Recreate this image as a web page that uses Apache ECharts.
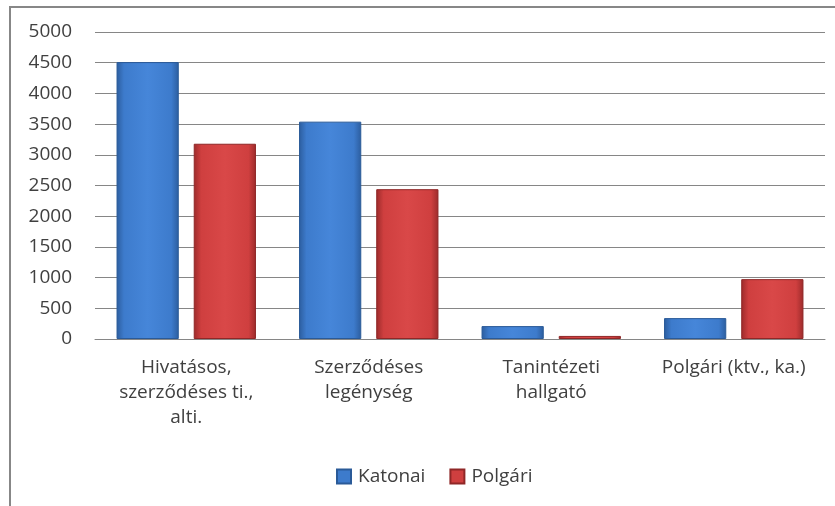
<!DOCTYPE html>
<html>
<head>
<meta charset="utf-8">
<script src="https://cdn.jsdelivr.net/npm/echarts@6/dist/echarts.min.js"></script>
<style>html,body{margin:0;padding:0;background:#fff}#c{width:835px;height:506px}</style>
</head>
<body>
<div id="c"></div>
<script>
const categories = ["Hivatásos,\nszerződéses ti.,\nalti.", "Szerződéses\nlegénység", "Tanintézeti\nhallgató", "Polgári (ktv., ka.)"];
const seriesNames = ["Katonai", "Polgári"];
const katonai = [4510, 3540, 210, 340];
const polgari = [3180, 2440, 50, 975];
const yTicks = [0, 500, 1000, 1500, 2000, 2500, 3000, 3500, 4000, 4500, 5000];

const font = "'Open Sans', 'Noto Sans', sans-serif";
function grad(light, mid, dark) {
  return new echarts.graphic.LinearGradient(0, 0, 1, 0, [
    {offset: 0, color: dark},
    {offset: 0.12, color: mid},
    {offset: 0.5, color: light},
    {offset: 0.88, color: mid},
    {offset: 1, color: dark}
  ]);
}
const blueFill = grad('#4686d9', '#3d7bcc', '#2c5d9e');
const redFill = grad('#d94848', '#cf3f3f', '#9c2b2b');

const chart = echarts.init(document.getElementById('c'), null, {renderer: 'canvas'});
chart.setOption({
  animation: false,
  backgroundColor: '#ffffff',
  graphic: [{
    type: 'polyline',
    shape: {points: [[10, 506], [10, 7], [835, 7]]},
    style: {stroke: '#878787', lineWidth: 2, fill: null}
  }],
  grid: {left: 95, right: 10, top: 32, bottom: 167, containLabel: false},
  legend: {
    data: [
      {name: seriesNames[0], itemStyle: {color: '#3d7bcc'}},
      {name: seriesNames[1], itemStyle: {color: '#cf3f3f'}}
    ],
    top: 462, left: 331,
    icon: 'rect', itemWidth: 14, itemHeight: 14, itemGap: 24,
    textStyle: {fontFamily: font, fontSize: 19, color: '#404040', padding: [0, 0, 0, 2]}
  },
  xAxis: {
    type: 'category',
    data: categories,
    axisLine: {show: true, lineStyle: {color: '#868686', width: 1}},
    axisTick: {show: false},
    axisLabel: {fontFamily: font, fontSize: 19, color: '#404040', margin: 16, lineHeight: 25, interval: 0}
  },
  yAxis: {
    type: 'value',
    min: yTicks[0], max: yTicks[yTicks.length - 1], interval: 500,
    axisLine: {show: false},
    axisTick: {show: false},
    splitLine: {lineStyle: {color: '#868686', width: 1}},
    axisLabel: {fontFamily: font, fontSize: 19, color: '#404040', margin: 23,
      formatter: function (v) { return String(v); }}
  },
  series: [
    {name: seriesNames[0], type: 'bar', data: katonai, barGap: '24%', barCategoryGap: '23.6%',
     itemStyle: {color: blueFill, borderColor: '#2a5a98', borderWidth: 1}},
    {name: seriesNames[1], type: 'bar', data: polgari, barGap: '24%', barCategoryGap: '23.6%',
     itemStyle: {color: redFill, borderColor: '#8f2727', borderWidth: 1}}
  ]
});
</script>
</body>
</html>
